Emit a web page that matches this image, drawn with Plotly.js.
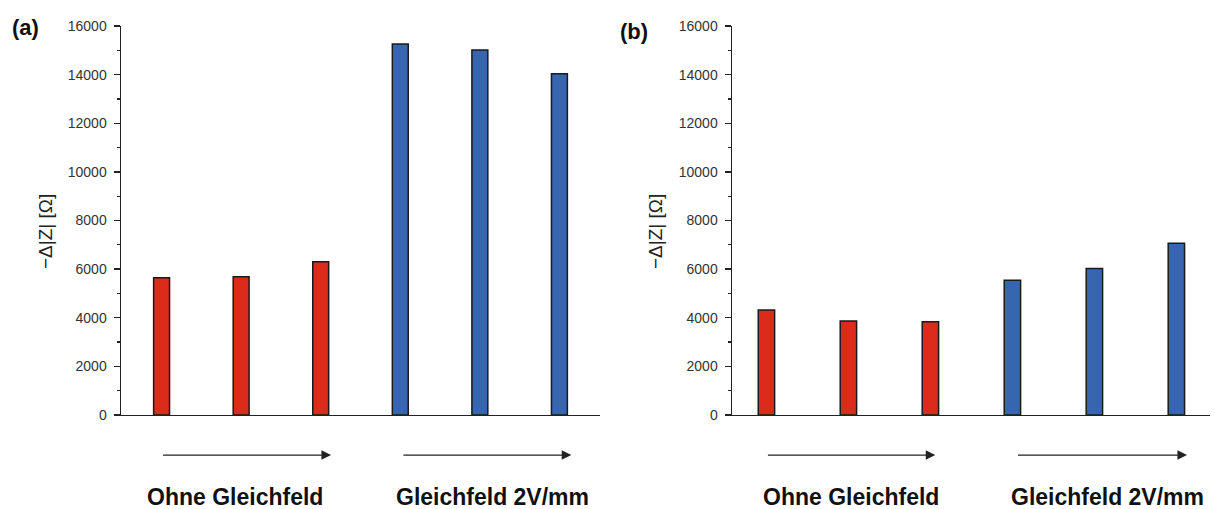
<!DOCTYPE html>
<html>
<head>
<meta charset="utf-8">
<script src="https://cdn.plot.ly/plotly-3.0.1.min.js"></script>
<style>html,body{margin:0;padding:0;background:#fff;}#chart{width:1215px;height:509px;}</style>
</head>
<body>
<div id="chart"></div>
<script>
// ---- data ----
const xRed = [1, 2, 3];
const xBlue = [4, 5, 6];
const aRed = [5640, 5690, 6300];
const aBlue = [15260, 15010, 14040];
const bRed = [4320, 3870, 3840];
const bBlue = [5540, 6030, 7060];
const groupLabels = ['Ohne Gleichfeld', 'Gleichfeld 2V/mm'];
const panelLabels = ['(a)', '(b)'];
const yTitle = '\u2212\u0394|Z| [\u03A9]';
const yTicks = [0, 2000, 4000, 6000, 8000, 10000, 12000, 14000, 16000];
const yTickText = ['0', '2000', '4000', '6000', '8000', '10000', '12000', '14000', '16000'];

const RED = '#dc2b1b', BLUE = '#3865b0', EDGE = '#1a1a1a';
const font = 'Liberation Sans, Arial, sans-serif';

function bar(x, y, color, xa, ya) {
  return {type: 'bar', x: x, y: y, xaxis: xa, yaxis: ya, width: 0.2,
    marker: {color: color, line: {color: EDGE, width: 1.5}}, showlegend: false, hoverinfo: 'x+y'};
}
const data = [
  bar(xRed, aRed, RED, 'x', 'y'),
  bar(xBlue, aBlue, BLUE, 'x', 'y'),
  bar(xRed, bRed, RED, 'x2', 'y2'),
  bar(xBlue, bBlue, BLUE, 'x2', 'y2')
];

function xaxis(domain, range, anchor) {
  return {domain: domain, range: range, anchor: anchor, showgrid: false, zeroline: false,
    showline: true, linecolor: '#222', linewidth: 1.5, showticklabels: false, ticks: '', fixedrange: true};
}
function yaxis(anchor) {
  return {domain: [0.1847, 0.9489], range: [0, 16000], anchor: anchor, showgrid: false, zeroline: false,
    showline: true, linecolor: '#222', linewidth: 1.5, tickmode: 'array', tickvals: yTicks, ticktext: yTickText,
    ticks: 'outside', ticklen: 6, tickwidth: 1.3, tickcolor: '#222', ticklabelstandoff: 4,
    tickfont: {family: font, size: 14, color: '#333'},
    minor: {dtick: 1000, ticks: 'outside', ticklen: 3, tickwidth: 1.2, tickcolor: '#222'},
    fixedrange: true};
}

const annotations = [];
function arrow(xref, tail, head) {
  annotations.push({xref: xref, yref: 'paper', x: head, y: 0.106, axref: xref, ayref: 'pixel',
    ax: tail, ay: 0, text: '', showarrow: true, arrowhead: 2, arrowsize: 1.6, arrowwidth: 1.2,
    arrowcolor: '#222', standoff: 0, startstandoff: 0});
}
arrow('x', 1.0, 3.13); arrow('x', 4.02, 6.15);
arrow('x2', 1.0, 3.06); arrow('x2', 4.05, 6.13);

function label(xref, x, text) {
  annotations.push({xref: xref, yref: 'paper', x: x, y: 0.0236, text: '<b>' + text + '</b>',
    showarrow: false, xanchor: 'center', yanchor: 'middle', font: {family: font, size: 23, color: '#111'}});
}
label('x', 1.92, groupLabels[0]); label('x', 5.16, groupLabels[1]);
label('x2', 2.03, groupLabels[0]); label('x2', 5.16, groupLabels[1]);

annotations.push({xref: 'paper', yref: 'paper', x: 25 / 1215, y: 1 - 27 / 509, text: '<b>' + panelLabels[0] + '</b>',
  showarrow: false, xanchor: 'center', yanchor: 'middle', font: {family: font, size: 22, color: '#111'}});
annotations.push({xref: 'paper', yref: 'paper', x: 634 / 1215, y: 1 - 31 / 509, text: '<b>' + panelLabels[1] + '</b>',
  showarrow: false, xanchor: 'center', yanchor: 'middle', font: {family: font, size: 22, color: '#111'}});

annotations.push({xref: 'paper', yref: 'paper', x: 45 / 1215, y: 1 - 232 / 509, text: yTitle, textangle: -90,
  showarrow: false, xanchor: 'center', yanchor: 'middle', font: {family: font, size: 19, color: '#222'}});
annotations.push({xref: 'paper', yref: 'paper', x: 655 / 1215, y: 1 - 232 / 509, text: yTitle, textangle: -90,
  showarrow: false, xanchor: 'center', yanchor: 'middle', font: {family: font, size: 19, color: '#222'}});

const layout = {
  width: 1215, height: 509, margin: {l: 0, r: 0, t: 0, b: 0},
  paper_bgcolor: '#fff', plot_bgcolor: '#fff', barmode: 'overlay',
  xaxis: xaxis([121 / 1215, 600 / 1215], [0.49, 6.51], 'y'),
  yaxis: yaxis('x'),
  xaxis2: xaxis([732 / 1215, 1210 / 1215], [0.58, 6.41], 'y2'),
  yaxis2: yaxis('x2'),
  annotations: annotations
};
Plotly.newPlot('chart', data, layout, {displayModeBar: false, staticPlot: true});
</script>
</body>
</html>
